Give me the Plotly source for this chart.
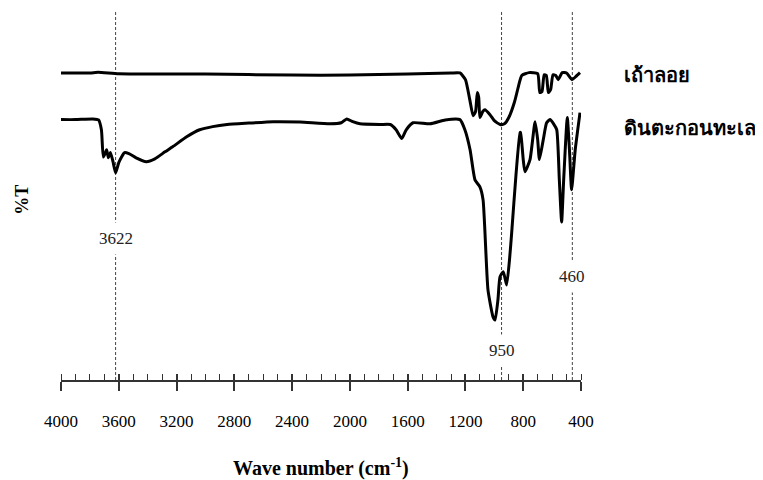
import plotly.graph_objects as go

# Fly ash (เถ้าลอย) spectrum: wavenumber (cm-1) and %T (arbitrary units)
fa_wn = [4000, 3800, 3744, 3600, 3000, 2400, 2000, 1600, 1300, 1238, 1200, 1170, 1147, 1130,
         1118, 1108, 1100, 1080, 1065, 1030, 1000, 960, 930, 900, 860, 830, 810, 760, 700,
         685, 670, 655, 640, 626, 610, 594, 575, 558, 530, 500, 462, 435, 407]
fa_t = [87.6, 87.6, 87.8, 87.4, 87.3, 87.0, 87.0, 87.3, 87.6, 87.6, 85.7, 80.0, 75.4, 76.6,
        82.0, 80.6, 74.9, 76.6, 77.1, 75.7, 74.0, 72.9, 73.1, 74.9, 79.4, 84.3, 86.9, 87.7, 87.4,
        82.0, 82.3, 87.1, 86.9, 82.0, 82.9, 87.1, 86.9, 85.7, 87.7, 87.6, 85.7, 86.6, 87.7]

# Marine sediment (ดินตะกอนทะเล) spectrum
ms_wn = [4000, 3900, 3780, 3740, 3720, 3707, 3690, 3684, 3672, 3658, 3640, 3622, 3600, 3560,
         3530, 3480, 3410, 3350, 3280, 3225, 3130, 3040, 2950, 2850, 2700, 2530, 2345, 2138,
         2060, 2022, 1980, 1930, 1790, 1720, 1680, 1641, 1610, 1563, 1445, 1340, 1238, 1204,
         1168, 1134, 1100, 1078, 1044, 1009, 995, 975, 961, 938, 915, 895, 880, 850, 822, 818,
         800, 788, 753, 718, 700, 688, 661, 638, 615, 590, 568, 550, 534, 520, 495, 480, 465,
         440, 407]
ms_t = [74.3, 74.3, 74.5, 74.2, 71.3, 63.6, 65.1, 65.7, 63.4, 64.9, 62.3, 59.1, 62.0, 64.9,
        64.6, 63.4, 62.3, 63.1, 65.1, 66.6, 69.4, 71.4, 72.3, 72.9, 73.3, 73.7, 73.6, 73.1,
        73.4, 74.5, 73.7, 73.1, 72.9, 72.9, 71.4, 68.9, 71.4, 73.4, 73.1, 74.2, 74.3, 71.4,
        65.7, 57.1, 55.1, 51.4, 25.7, 18.0, 17.1, 22.9, 29.4, 30.9, 27.1, 34.3, 42.0, 58.6, 70.6, 70.6,
        62.9, 59.4, 62.9, 73.7, 68.6, 62.9, 68.6, 73.4, 74.3, 73.1, 71.4, 57.1, 45.1, 57.1, 74.9, 65.7, 54.3,
        65.7, 76.3]

series_names = ["เถ้าลอย", "ดินตะกอนทะเล"]
marked_peaks = [3622, 950, 460]
peak_label_y = [40.5, 8.5, 29.5]

tick_vals = [4000, 3600, 3200, 2800, 2400, 2000, 1600, 1200, 800, 400]
tick_text = [str(v) for v in tick_vals]

serif = "Liberation Serif, Times New Roman, serif"

fig = go.Figure()
fig.add_trace(go.Scatter(x=fa_wn, y=fa_t, mode="lines",
                         line=dict(color="black", width=3, shape="spline", smoothing=0.5),
                         showlegend=False))
fig.add_trace(go.Scatter(x=ms_wn, y=ms_t, mode="lines",
                         line=dict(color="black", width=3, shape="spline", smoothing=0.5),
                         showlegend=False))
# helper trace for the second (tick-only) axis
fig.add_trace(go.Scatter(x=[4000, 400], y=[0, 0], xaxis="x2", mode="lines",
                         line=dict(width=0), hoverinfo="skip", showlegend=False))

for wn, ly in zip(marked_peaks, peak_label_y):
    fig.add_shape(type="line", xref="x", yref="paper", x0=wn, x1=wn, y0=0, y1=1,
                  line=dict(color="#444", width=1, dash="3px,2px"), layer="below")
    fig.add_annotation(x=wn, y=ly, xref="x", yref="y", text=str(wn), showarrow=False,
                       font=dict(family=serif, size=17, color="#222"),
                       bgcolor="white", borderpad=6)

fig.add_annotation(x=1.079, y=0.829, xref="paper", yref="paper", text="<b>" + series_names[0] + "</b>",
                   showarrow=False, xanchor="left", yanchor="middle",
                   font=dict(family="Noto Sans, sans-serif", size=20, color="black"))
fig.add_annotation(x=1.079, y=0.685, xref="paper", yref="paper", text="<b>" + series_names[1] + "</b>",
                   showarrow=False, xanchor="left", yanchor="middle",
                   font=dict(family="Noto Sans, sans-serif", size=20, color="black"))

fig.add_annotation(x=-0.075, y=0.49, xref="paper", yref="paper", text="<b>%T</b>",
                   showarrow=False, textangle=-90, xanchor="center", yanchor="middle",
                   font=dict(family=serif, size=18, color="black"))
fig.add_annotation(x=0.5, y=-0.239, xref="paper", yref="paper",
                   text="<b>Wave number (cm<sup>-1</sup>)</b>", showarrow=False,
                   xanchor="center", yanchor="middle",
                   font=dict(family=serif, size=20, color="black"))

fig.update_layout(
    width=755, height=472,
    margin=dict(l=53, r=182, t=4, b=100),
    paper_bgcolor="white", plot_bgcolor="white",
    xaxis=dict(range=[4000, 400], showgrid=False, zeroline=False,
               showline=True, linecolor="#333", linewidth=1.5,
               ticks="outside", ticklen=9, tickwidth=1.5, tickcolor="#333",
               tickvals=tick_vals, ticktext=tick_text,
               tickfont=dict(family=serif, size=17, color="black"),
               ticklabelstandoff=16,
               minor=dict(dtick=100, ticks="inside", ticklen=6, tickwidth=1, tickcolor="#333")),
    xaxis2=dict(range=[4000, 400], overlaying="x", anchor="y", side="bottom",
                showgrid=False, zeroline=False, showline=False,
                ticks="inside", ticklen=6, tickwidth=1.5, tickcolor="#333",
                tickvals=tick_vals, showticklabels=False),
    yaxis=dict(range=[0, 105], visible=False),
)

fig.write_html("out.html")
